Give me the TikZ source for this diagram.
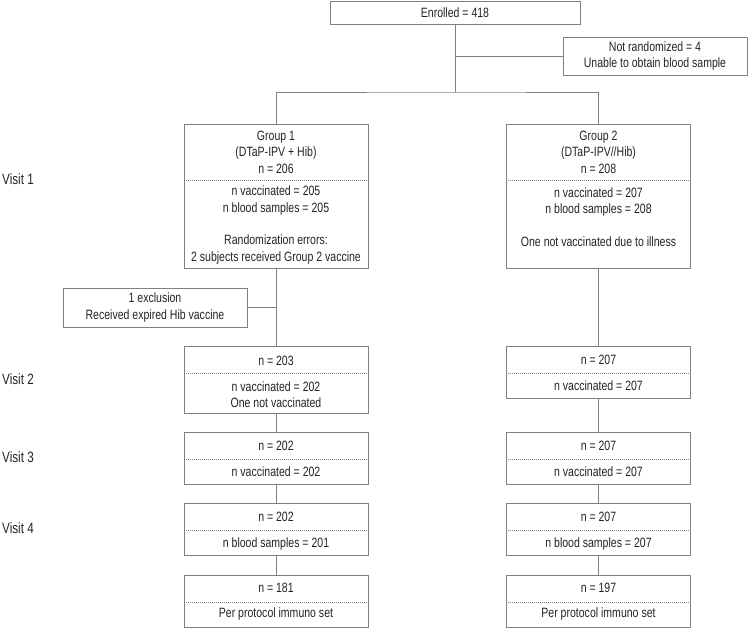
\documentclass[tikz,border=0pt]{standalone}
\usepackage{fontspec}
\setmainfont{Liberation Sans}[FakeStretch=0.78]
\usepackage{tikz}
\definecolor{boxgray}{RGB}{128,128,128}
\definecolor{txtgray}{RGB}{35,35,35}

\begin{document}
\begin{tikzpicture}[x=1pt,y=-1pt,
    box/.style={draw=boxgray,line width=0.8pt,minimum width=184pt,inner sep=0pt,
      text=txtgray,align=center,font=\fontsize{13.5}{16.4}\selectfont},
    txt/.style={text=txtgray,align=center,inner sep=0pt,font=\fontsize{13.5}{16.4}\selectfont},
    link/.style={draw=boxgray,line width=0.8pt},
    divider/.style={draw=boxgray,line width=0.5pt,dash pattern=on 1pt off 1pt},
    visit/.style={anchor=west,text=txtgray,inner sep=0pt,font=\fontsize{15}{16}\selectfont}]
  \useasboundingbox (0,0) rectangle (749,628);

  % enrolment
  \node[box,minimum width=250pt,minimum height=23pt] (enr) at (455,12.5) {Enrolled = 418};
  \node[box,minimum height=38pt] (notr) at (655,56) {Not randomized = 4\\ Unable to obtain blood sample};
  \coordinate (fork) at (455,92);

  % visit 1
  \node[box,minimum height=144pt] (g1) at (276,196) {};
  \node[box,minimum height=144pt] (g2) at (598.5,196) {};
  \node[txt] (g1top) at (276,152) {Group 1\\ (DTaP-IPV + Hib)\\ n = 206};
  \node[txt] (g1bot) at (276,225) {n vaccinated = 205\\ n blood samples = 205\\[16.4pt]
    Randomization errors:\\ 2 subjects received Group 2 vaccine};
  \node[txt] (g2top) at (598.5,152) {Group 2\\ (DTaP-IPV//Hib)\\ n = 208};
  \node[txt] (g2bot) at (598.5,217) {n vaccinated = 207\\ n blood samples = 208\\[16.4pt]
    One not vaccinated due to illness};
  \node[box,minimum height=39pt] (excl) at (155,307.5) {1 exclusion\\ Received expired Hib vaccine};

  % visit 2
  \node[box,minimum height=67pt] (v2a) at (276,379.5) {};
  \node[box,minimum height=52pt] (v2b) at (598.5,372) {};
  \node[txt] (v2atop) at (276,361) {n = 203};
  \node[txt] (v2abot) at (276,394.5) {n vaccinated = 202\\ One not vaccinated};
  \node[txt] (v2btop) at (598.5,360) {n = 207};
  \node[txt] (v2bbot) at (598.5,386) {n vaccinated = 207};

  % visit 3
  \node[box,minimum height=52pt] (v3a) at (276,458) {};
  \node[box,minimum height=52pt] (v3b) at (598.5,458) {};
  \node[txt] (v3atop) at (276,446) {n = 202};
  \node[txt] (v3abot) at (276,472) {n vaccinated = 202};
  \node[txt] (v3btop) at (598.5,446) {n = 207};
  \node[txt] (v3bbot) at (598.5,472) {n vaccinated = 207};

  % visit 4
  \node[box,minimum height=52pt] (v4a) at (276,529.5) {};
  \node[box,minimum height=52pt] (v4b) at (598.5,529.5) {};
  \node[txt] (v4atop) at (276,517) {n = 202};
  \node[txt] (v4abot) at (276,544) {n blood samples = 201};
  \node[txt] (v4btop) at (598.5,517) {n = 207};
  \node[txt] (v4bbot) at (598.5,544) {n blood samples = 207};

  % per protocol
  \node[box,minimum height=52pt] (ppa) at (276,601) {};
  \node[box,minimum height=52pt] (ppb) at (598.5,601) {};
  \node[txt] (ppatop) at (276,588) {n = 181};
  \node[txt] (ppabot) at (276,614) {Per protocol immuno set};
  \node[txt] (ppbtop) at (598.5,588) {n = 197};
  \node[txt] (ppbbot) at (598.5,614) {Per protocol immuno set};

  \foreach \b/\y in {g1/180,g2/180,v2a/373,v2b/373,v3a/459,v3b/459,v4a/530,v4b/530,ppa/602,ppb/602}
    \draw[divider] (\b.west |- 0,\y) -- (\b.east |- 0,\y);

  \draw[link] (enr.south) -- (fork);
  \draw[link] (enr.south |- notr.west) -- (notr.west);
  \draw[link] (g1.north) |- (fork) -| (g2.north);
  \draw[link] (g1.south) -- (v2a.north);
  \draw[link] (excl.east) -- (excl.east -| g1.south);
  \draw[link] (v2a) -- (v3a);
  \draw[link] (v3a) -- (v4a);
  \draw[link] (v4a) -- (ppa);
  \draw[link] (g2) -- (v2b);
  \draw[link] (v2b) -- (v3b);
  \draw[link] (v3b) -- (v4b);
  \draw[link] (v4b) -- (ppb);

  \node[visit] (visit1) at (2,179) {Visit 1};
  \node[visit] (visit2) at (2,379) {Visit 2};
  \node[visit] (visit3) at (2,457) {Visit 3};
  \node[visit] (visit4) at (2,528) {Visit 4};
\end{tikzpicture}
\end{document}
